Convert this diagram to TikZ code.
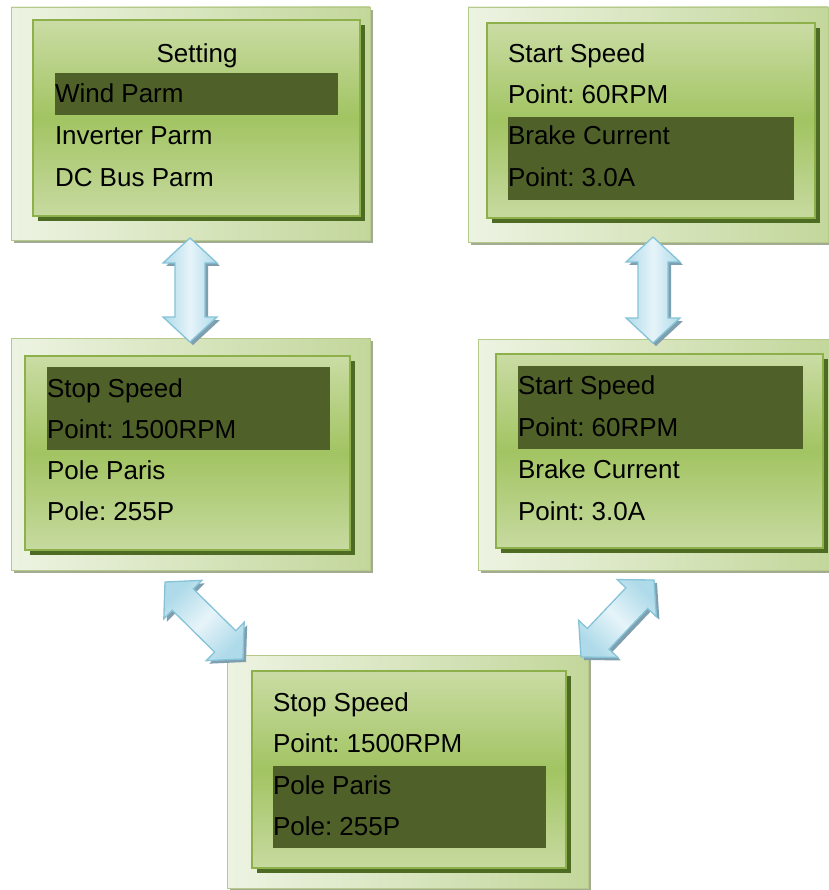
\documentclass[tikz,border=0pt]{standalone}
\usepackage{fontspec}
\setmainfont{Liberation Sans}
\frenchspacing
\usetikzlibrary{calc,shadows}
\definecolor{framelight}{HTML}{EDF3E2}
\definecolor{framegreen}{HTML}{C3D79B}
\definecolor{frameedge}{HTML}{B5C98A}
\definecolor{frameshade}{HTML}{A3AC93}
\definecolor{paneltop}{HTML}{CADCA4}
\definecolor{panelmid}{HTML}{A2C462}
\definecolor{panelbot}{HTML}{C7DAA0}
\definecolor{paneledge}{HTML}{8DB04A}
\definecolor{panelshade}{HTML}{4E6B24}
\definecolor{hlcol}{HTML}{4F6128}
\definecolor{arrowmid}{HTML}{E6F4F9}
\definecolor{arrowside}{HTML}{AEDAE9}
\definecolor{arrowedge}{HTML}{86C3D8}
\definecolor{arrowshadow}{HTML}{7F9FAF}
\tikzset{
  frame/.style={draw=frameedge, line width=0.8pt, left color=framelight, right color=framegreen,
    anchor=north west, inner sep=0pt, outer sep=0pt,
    drop shadow={fill=frameshade, opacity=1, shadow xshift=3pt, shadow yshift=-3pt}},
  panel/.style={draw=paneledge, line width=1.6pt, top color=paneltop, bottom color=panelbot, middle color=panelmid,
    anchor=north west, inner sep=0pt, outer sep=0pt,
    drop shadow={fill=panelshade, opacity=1, shadow xshift=5pt, shadow yshift=-5pt}},
  hlbar/.style={fill=hlcol, draw=none, anchor=north west, inner sep=0pt, outer sep=0pt},
  txt/.style={anchor=base west, inner sep=0pt, outer sep=0pt, font=\fontsize{26}{30}\selectfont, text=black},
  arrowbody/.style={draw=arrowedge, line width=1.3pt, left color=arrowside, right color=arrowside, middle color=arrowmid},
  arrowshade/.style={fill=arrowshadow},
}
% double arrow between two named coordinates: #1 start, #2 end, #3 shading angle
\newcommand{\dblarrow}[3]{%
  \path ($(#1)!25pt!(#2)$) coordinate (ha) ($(#2)!25pt!(#1)$) coordinate (hb);
  \path ($(ha)!27pt!90:(#2)$) coordinate (ha1) ($(ha)!27pt!-90:(#2)$) coordinate (ha2)
        ($(ha)!15pt!90:(#2)$) coordinate (sa1) ($(ha)!15pt!-90:(#2)$) coordinate (sa2)
        ($(hb)!27pt!-90:(#1)$) coordinate (hb1) ($(hb)!27pt!90:(#1)$) coordinate (hb2)
        ($(hb)!15pt!-90:(#1)$) coordinate (sb1) ($(hb)!15pt!90:(#1)$) coordinate (sb2);
  \begin{scope}[transform canvas={shift={(3pt,-3pt)}}]
    \fill[arrowshade] (#1) -- (ha1) -- (sa1) -- (sb1) -- (hb1) -- (#2) -- (hb2) -- (sb2) -- (sa2) -- (ha2) -- cycle;
  \end{scope}
  \draw[arrowbody, shading angle=#3, line join=miter] (#1) -- (ha1) -- (sa1) -- (sb1) -- (hb1) -- (#2) -- (hb2) -- (sb2) -- (sa2) -- (ha2) -- cycle;
}
\begin{document}
\begin{tikzpicture}[x=1pt, y=-1pt]
\useasboundingbox[fill=white] (0,0) rectangle (828,890);

% ---------- Box 1 ----------
\node[frame, minimum width=359pt, minimum height=233pt] (b1) at (11,7) {};
\node[panel, minimum width=327pt, minimum height=196pt] (b1p) at (33,20) {};
\node[hlbar, minimum width=283pt, minimum height=42pt] (b1h) at (55,73) {};
\node[txt, anchor=base] (b1t1) at (197,63) {Setting};
\node[txt] (b1t2) at (55,103) {Wind Parm};
\node[txt] (b1t3) at (55,145) {Inverter Parm};
\node[txt] (b1t4) at (55,187) {DC Bus Parm};

% ---------- Box 2 ----------
\node[frame, minimum width=360pt, minimum height=235pt] (b2) at (468,7) {};
\node[panel, minimum width=328pt, minimum height=195pt] (b2p) at (487,23) {};
\node[hlbar, minimum width=286pt, minimum height=83pt] (b2h) at (508,117) {};
\node[txt] (b2t1) at (508,63) {Start Speed};
\node[txt] (b2t2) at (508,104) {Point: 60RPM};
\node[txt] (b2t3) at (508,145) {Brake Current};
\node[txt] (b2t4) at (508,187) {Point: 3.0A};

% ---------- Box 3 ----------
\node[frame, minimum width=359pt, minimum height=232pt] (b3) at (11,338) {};
\node[panel, minimum width=325pt, minimum height=194pt] (b3p) at (25,356) {};
\node[hlbar, minimum width=283pt, minimum height=83pt] (b3h) at (47,367) {};
\node[txt] (b3t1) at (47,397) {Stop Speed};
\node[txt] (b3t2) at (47,438) {Point: 1500RPM};
\node[txt] (b3t3) at (47,479) {Pole Paris};
\node[txt] (b3t4) at (47,520) {Pole: 255P};

% ---------- Box 4 ----------
\node[frame, minimum width=352pt, minimum height=231pt] (b4) at (478,339) {};
\node[panel, minimum width=327pt, minimum height=194pt] (b4p) at (496,354) {};
\node[hlbar, minimum width=285pt, minimum height=83pt] (b4h) at (518,366) {};
\node[txt] (b4t1) at (518,394) {Start Speed};
\node[txt] (b4t2) at (518,436) {Point: 60RPM};
\node[txt] (b4t3) at (518,478) {Brake Current};
\node[txt] (b4t4) at (518,520) {Point: 3.0A};

% ---------- Box 5 ----------
\node[frame, minimum width=361pt, minimum height=233pt] (b5) at (227,655) {};
\node[panel, minimum width=314pt, minimum height=197pt] (b5p) at (252,671) {};
\node[hlbar, minimum width=273pt, minimum height=82pt] (b5h) at (273,766) {};
\node[txt] (b5t1) at (273,711) {Stop Speed};
\node[txt] (b5t2) at (273,752) {Point: 1500RPM};
\node[txt] (b5t3) at (273,794) {Pole Paris};
\node[txt] (b5t4) at (273,835) {Pole: 255P};

% ---------- Arrows ----------
\coordinate (a1s) at (190,238);
\coordinate (a1e) at (190,342);
\coordinate (a2s) at (653,237);
\coordinate (a2e) at (653,343);
\coordinate (a3s) at (165,582);
\coordinate (a3e) at (243,659);
\coordinate (a4s) at (654,580);
\coordinate (a4e) at (581,657);
\dblarrow{a1s}{a1e}{90}
\dblarrow{a2s}{a2e}{90}
\dblarrow{a3s}{a3e}{45}
\dblarrow{a4s}{a4e}{135}
\end{tikzpicture}
\end{document}
